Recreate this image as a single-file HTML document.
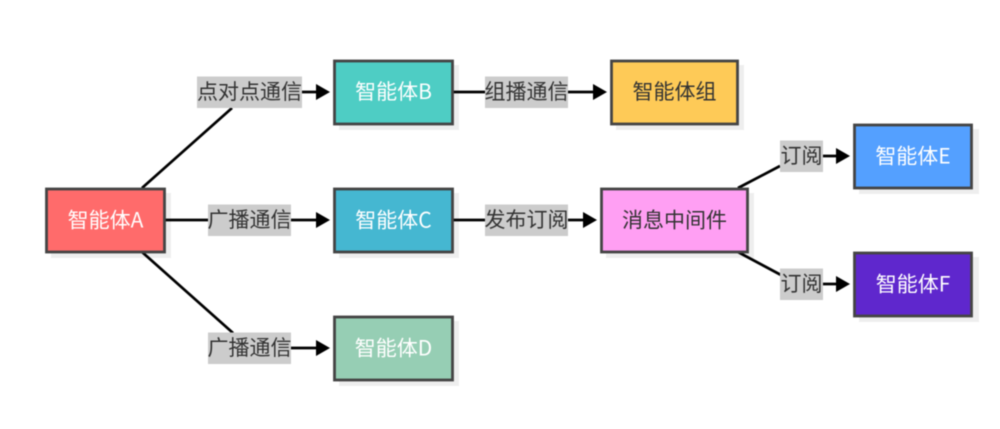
<!DOCTYPE html>
<html lang="zh"><head><meta charset="utf-8">
<style>
html,body{margin:0;padding:0;background:#fff;width:1000px;height:429px;overflow:hidden}
svg{display:block;filter:blur(.4px)}
text{font-family:"Noto Sans CJK SC","Liberation Sans",sans-serif;font-size:21px;text-anchor:middle;dominant-baseline:central}
.s{fill:#eee}
.n{stroke:#444;stroke-width:2.8}
.l{fill:none;stroke:#000;stroke-width:2.7}
.b{fill:#ccc}
.t{fill:#333}
.w{fill:#fff}
</style></head><body>
<svg width="1000" height="429" viewBox="0 0 1000 429" xmlns="http://www.w3.org/2000/svg">
<rect width="1000" height="429" fill="#fff"/>
<!-- shadows -->
<rect class="s" x="51" y="193" width="120" height="65"/>
<rect class="s" x="339" y="65" width="120" height="65"/>
<rect class="s" x="339" y="193" width="120" height="65"/>
<rect class="s" x="339" y="321" width="120" height="65"/>
<rect class="s" x="616" y="65" width="128" height="65"/>
<rect class="s" x="606" y="193" width="148" height="65"/>
<rect class="s" x="859" y="129" width="120" height="65"/>
<rect class="s" x="859" y="257" width="120" height="65"/>
<!-- connector lines -->
<path class="l" d="M142 188L232 108M302 92H318"/>
<path class="l" d="M165 220H208M291 220H318"/>
<path class="l" d="M142 252L233 333M291 348H318"/>
<path class="l" d="M453 92H485M568 92H595"/>
<path class="l" d="M453 220H485M568 220H585"/>
<path class="l" d="M738 188L780 166M822 156H838"/>
<path class="l" d="M738 252L781 275M822 284H838"/>
<!-- arrowheads -->
<path d="M316 84L330 92L316 100Z"/>
<path d="M316 212L330 220L316 228Z"/>
<path d="M316 340L330 348L316 356Z"/>
<path d="M593 84L607 92L593 100Z"/>
<path d="M583 212L597 220L583 228Z"/>
<path d="M836 148L850 156L836 164Z"/>
<path d="M836 276L850 284L836 292Z"/>
<!-- nodes -->
<rect class="n" x="46.500" y="189" width="118" height="63" fill="#ff6b6b"/>
<rect class="n" x="334.500" y="61" width="118" height="63" fill="#4ecdc4"/>
<rect class="n" x="334.500" y="189" width="118" height="63" fill="#45b7d1"/>
<rect class="n" x="334.500" y="317" width="118" height="63" fill="#96ceb4"/>
<rect class="n" x="611.500" y="61" width="126" height="63" fill="#feca57"/>
<rect class="n" x="601.500" y="189" width="146" height="63" fill="#ff9ff3"/>
<rect class="n" x="854.500" y="125" width="117" height="63" fill="#54a0ff"/>
<rect class="n" x="854.500" y="253" width="117" height="63" fill="#5f27cd"/>
<!-- node text -->
<text class="w" x="105.500" y="219.500">智能体A</text>
<text class="w" x="393.500" y="91">智能体B</text>
<text class="w" x="393.500" y="219.500">智能体C</text>
<text class="w" x="393.500" y="347.500">智能体D</text>
<text class="t" x="674.500" y="91">智能体组</text>
<text class="t" x="674.500" y="219.500">消息中间件</text>
<text class="w" x="913" y="155.500">智能体E</text>
<text class="w" x="913" y="283.500">智能体F</text>
<!-- edge labels -->
<rect class="b" x="197" y="76.500" width="105" height="31.500"/>
<text class="t" x="249.500" y="91">点对点通信</text>
<rect class="b" x="208" y="204.500" width="83" height="31.500"/>
<text class="t" x="249.500" y="219">广播通信</text>
<rect class="b" x="208" y="332.500" width="83" height="31.500"/>
<text class="t" x="249.500" y="347">广播通信</text>
<rect class="b" x="485" y="76.500" width="83" height="31.500"/>
<text class="t" x="526.500" y="91">组播通信</text>
<rect class="b" x="485" y="204.500" width="83" height="31.500"/>
<text class="t" x="526.500" y="219">发布订阅</text>
<rect class="b" x="780" y="140.500" width="43" height="31.500"/>
<text class="t" x="801.500" y="155">订阅</text>
<rect class="b" x="780" y="268.500" width="43" height="31.500"/>
<text class="t" x="801.500" y="283">订阅</text>
</svg>
</body></html>
